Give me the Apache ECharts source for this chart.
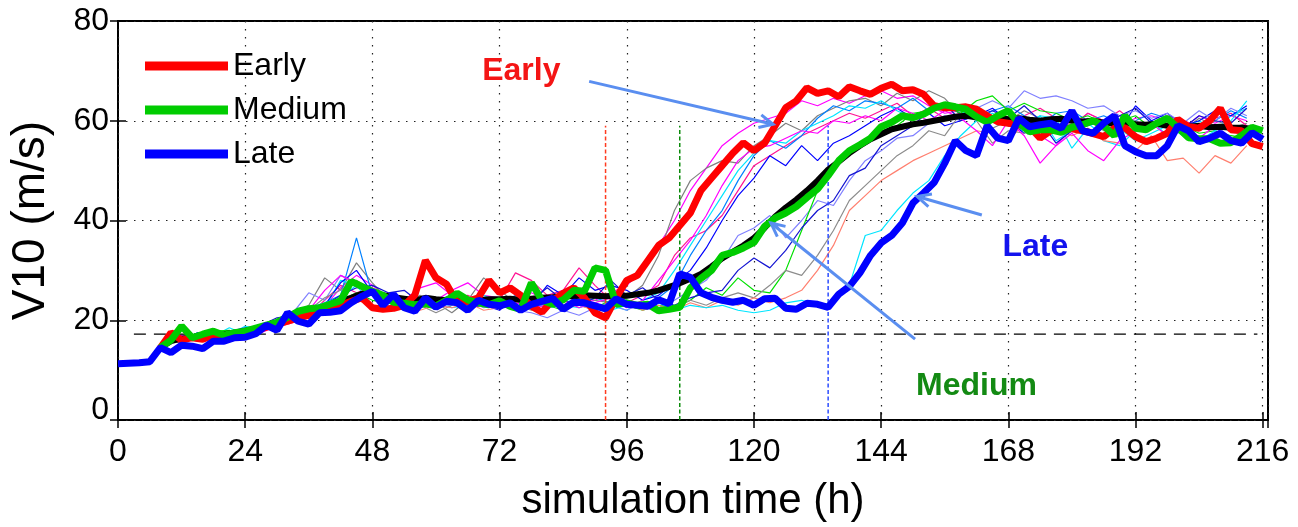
<!DOCTYPE html>
<html>
<head>
<meta charset="utf-8">
<script src="https://cdn.jsdelivr.net/npm/echarts@6/dist/echarts.min.js"></script>
<style>
html,body{margin:0;padding:0;background:#fff;}
#chart{width:1298px;height:527px;}
</style>
</head>
<body>
<div id="chart"></div>
<script>
// ---------- DATA ----------
// x ticks (simulation hours)
const xTicks = [0, 24, 48, 72, 96, 120, 144, 168, 192, 216];
const yTicks = [0, 20, 40, 60, 80];

// Thick lines: 2-hourly values
const thickStep = 2;
const lateStart = 0;     // Late (blue) starts at hour 0
const lateValues = [
  11.3,11.4,11.5,11.7,14.5,13.5,15.0,14.8,14.3,15.8,
  15.8,16.5,16.6,17.3,19.0,18.0,21.5,19.8,19.2,21.5,
  21.6,21.9,23.5,24.8,25.8,23.0,25.2,22.5,21.8,24.5,
  22.6,23.8,23.5,22.0,24.0,23.2,22.9,23.5,22.0,23.2,
  23.8,24.4,22.2,23.6,23.5,22.9,22.3,24.3,23.2,23.0,
  22.8,24.1,23.3,29.3,28.6,25.5,24.6,24.0,23.6,24.0,
  23.0,24.3,24.4,22.4,22.2,23.4,23.2,22.6,25.2,26.8,
  29.5,33.0,35.5,37.0,39.5,43.5,45.5,47.6,51.5,56.0,
  54.0,53.0,59.0,56.5,56.0,60.5,58.8,59.2,59.5,58.5,
  62.0,58.0,57.5,59.5,61.0,55.0,53.8,53.0,53.0,55.0,
  59.0,58.0,55.8,56.5,57.5,56.0,55.5,57.6,56.3
];
const earlyStart = 8;
const earlyValues = [
  14.5,17.5,16.0,16.5,16.2,17.0,16.8,17.2,17.5,18.2,
  18.6,19.2,19.8,20.5,21.0,22.0,22.5,23.0,23.8,24.5,
  22.5,22.2,22.4,23.0,25.0,32.0,28.5,27.2,23.5,23.8,
  24.5,28.0,25.5,26.5,25.0,22.8,21.6,24.0,25.4,26.5,
  24.5,21.5,20.5,24.5,28.0,29.0,32.0,35.0,36.5,39.0,
  41.5,46.0,48.5,51.0,53.5,55.6,54.0,55.5,59.0,62.6,
  64.0,66.6,65.5,66.0,64.8,66.8,66.0,65.3,66.5,67.3,
  66.0,66.2,65.3,63.0,62.6,62.6,62.8,62.3,61.0,59.8,
  59.5,59.2,58.8,56.5,58.0,58.4,58.4,58.0,57.4,56.8,
  58.5,58.6,56.8,55.8,56.5,57.5,60.3,58.8,58.5,60.0,
  62.5,58.2,58.0,55.4,54.8
];
const mediumStart = 8;
const mediumValues = [
  14.5,16.0,18.8,16.5,17.2,17.8,17.0,17.5,17.8,18.4,
  19.0,19.6,20.6,21.8,22.3,22.5,23.2,23.9,27.8,26.8,
  25.8,25.0,23.6,23.4,23.1,23.3,22.9,24.0,25.4,24.1,
  23.5,23.1,23.9,22.8,22.2,27.5,24.0,23.2,24.1,26.0,
  25.8,30.5,30.0,23.2,23.5,23.0,23.2,21.9,22.2,22.6,
  26.5,28.4,30.0,33.0,33.6,34.5,35.6,38.8,40.5,41.5,
  42.8,44.6,46.3,49.0,52.0,54.0,55.2,56.5,58.8,59.7,
  61.0,60.6,61.3,62.5,63.2,62.8,62.3,60.8,59.7,61.0,
  62.0,59.5,57.8,58.2,58.2,57.7,58.7,59.2,60.0,59.0,
  57.0,61.0,58.5,58.2,59.5,60.5,58.6,56.6,56.4,56.4,
  55.5,55.6,57.0,58.7,58.0
];
const meanStart = 8;
const meanValues = [
  14.5,15.8,16.3,16.5,16.8,17.0,17.2,17.5,17.8,18.3,
  18.8,19.5,20.3,21.0,21.8,22.5,23.0,23.8,24.5,25.3,
  25.5,25.0,24.6,24.3,24.0,24.5,24.2,24.0,24.0,23.9,
  24.0,24.2,24.2,24.3,24.1,24.3,24.5,24.6,24.8,24.8,
  25.0,24.9,24.8,24.9,24.9,25.2,25.5,26.0,26.7,27.4,
  28.3,29.3,30.8,32.4,33.7,35.0,36.5,38.5,40.8,42.6,
  44.2,46.0,48.0,50.2,51.8,53.5,55.0,56.3,57.3,58.3,
  58.8,59.3,59.6,60.0,60.4,60.8,61.0,60.7,60.5,60.6,
  60.3,60.5,60.2,60.0,60.3,60.4,60.0,59.8,60.0,59.6,
  59.4,59.6,59.3,59.2,59.4,59.0,59.2,58.8,59.0,58.7,
  58.8,58.6,58.6,58.4
];

// Thin ensemble members: 3-hourly values from hour 9
const memberStart = 9;
const memberStep = 3;
const memberColors = ['#ff00ff','#808080','#ff1493','#0080ff','#00e5ff','#0000ff','#8080ff','#00e000','#8c8c8c','#ff7f6f','#00e5ff','#1414d2','#ff00ff'];
const memberA = [
  15.5,16.8,16.2,17.5,17.0,18.2,17.8,19.0,20.5,21.5,
  22.8,26.5,29.0,27.0,24.5,23.5,23.0,24.0,26.0,27.5,
  25.0,24.5,23.0,25.5,24.0,26.0,23.5,24.0,25.5,27.0,
  30.0,35.0,40.0,46.0,50.5,55.0,57.5,59.5,60.5,61.5,
  64.0,63.0,64.5,63.5,65.0,66.0,64.5,65.0,63.0,61.5,
  62.0,60.5,61.0,60.0,59.5,57.0,55.0,58.5,61.5,60.0,
  59.0,60.5,61.0,60.0,58.5,61.0,59.5,61.0,60.0
];
const memberB = [
  15.8,16.5,17.0,16.6,17.8,18.0,18.5,19.8,21.0,23.0,
  28.5,26.0,31.5,27.5,24.0,23.0,25.0,23.5,21.5,24.0,
  28.5,26.0,23.5,23.0,24.5,23.0,25.0,24.0,23.5,24.5,
  27.0,33.0,42.0,48.0,50.5,52.0,51.5,55.0,57.0,59.5,
  58.0,61.0,62.5,64.0,64.5,63.0,65.5,64.0,66.0,64.5,
  61.0,62.5,58.5,60.0,62.0,60.5,59.0,58.0,60.0,59.5,
  61.0,58.5,60.0,59.0,58.0,60.5,59.0,58.5,59.5
];
const memberC = [
  16.0,15.5,16.8,17.2,16.5,17.5,18.0,18.6,19.5,21.0,
  24.0,27.0,25.5,26.5,24.0,23.5,24.5,23.0,24.5,25.0,
  23.5,24.0,29.5,28.0,25.0,26.0,30.5,27.0,24.0,23.5,
  25.0,27.0,33.0,36.5,38.0,41.0,46.0,51.0,53.0,55.0,
  57.0,58.5,60.0,61.5,60.5,62.0,63.5,61.0,62.5,60.5,
  61.5,62.0,60.0,59.5,61.0,62.5,60.5,59.0,61.5,60.0,
  62.0,59.5,58.5,61.0,60.0,59.0,60.5,61.5,59.0
];
const memberD = [
  15.5,16.0,16.5,17.0,17.5,17.8,18.2,19.0,20.0,21.5,
  23.5,25.0,36.5,25.0,23.5,24.5,23.0,22.5,24.0,23.0,
  24.5,23.0,25.0,24.0,22.5,24.0,23.0,24.5,23.5,24.0,
  23.0,24.5,27.0,33.0,38.0,42.0,48.0,53.0,56.0,54.5,
  57.0,60.5,63.0,62.0,64.0,63.5,62.5,64.5,62.0,63.0,
  61.5,60.0,62.0,63.0,61.0,59.0,61.5,62.0,60.0,61.0,
  59.5,60.0,61.5,60.5,59.0,58.5,60.0,62.0,60.5
];
const memberE = [
  16.2,16.0,17.5,16.8,18.5,17.2,18.0,19.0,20.0,21.0,
  22.5,28.0,27.0,25.0,23.0,22.0,23.5,24.5,22.5,23.0,
  25.0,23.5,24.0,22.5,23.0,24.0,23.5,22.5,23.0,22.0,
  24.0,25.5,30.0,35.0,40.0,45.0,50.0,53.5,56.0,55.5,
  58.0,59.5,61.0,63.0,62.5,64.0,62.0,60.5,62.0,63.5,
  62.0,60.0,61.0,59.0,58.0,61.0,60.5,54.5,58.5,56.0,
  55.0,58.0,60.0,57.0,58.5,60.0,58.0,61.0,62.5
];
const memberF = [
  15.6,16.4,16.0,17.3,16.9,17.6,18.3,19.2,20.2,21.5,
  23.0,27.5,30.0,25.5,24.0,24.5,22.5,23.5,24.0,22.5,
  23.0,22.0,24.5,23.0,27.0,25.0,28.5,26.0,27.0,26.0,
  24.0,25.0,27.5,30.0,34.5,40.0,45.0,48.5,53.0,51.0,
  55.0,52.0,55.5,57.0,59.0,61.0,62.5,60.5,61.5,59.0,
  60.0,61.0,62.5,60.0,57.5,59.0,60.5,58.5,59.0,60.0,
  58.0,63.0,60.0,61.5,59.0,60.0,62.0,61.0,63.0
];
const memberG = [
  16.0,16.5,15.8,17.0,17.5,17.0,18.5,19.5,21.5,25.5,
  24.0,29.0,27.5,26.0,24.0,23.5,24.0,22.5,23.0,24.0,
  22.5,23.0,22.0,21.5,20.5,22.0,21.0,22.5,23.0,22.0,
  23.5,22.5,24.0,26.0,28.0,32.0,37.0,38.5,41.0,36.5,
  40.0,44.0,43.0,48.0,52.0,54.0,56.5,57.0,59.5,61.0,
  60.0,62.5,64.0,62.5,66.0,64.5,65.0,64.0,62.5,63.0,
  61.0,62.0,60.5,61.5,59.5,62.0,60.0,62.5,61.0
];
const memberH = [
  15.8,17.0,16.5,17.8,18.0,17.2,18.5,19.0,20.5,21.0,
  22.0,24.0,25.5,24.0,23.5,22.0,24.0,23.0,24.5,23.0,
  24.0,23.5,22.5,24.0,23.0,22.0,23.5,22.5,24.0,23.0,
  22.0,23.0,22.5,24.0,26.5,25.0,28.5,26.0,25.5,30.0,
  38.0,46.0,51.0,54.5,55.5,58.0,59.0,61.5,62.0,63.0,
  61.5,64.0,65.0,62.0,63.5,62.0,61.5,60.0,61.0,59.5,
  60.0,61.0,58.5,60.0,59.0,57.5,58.0,57.0,56.5
];
const memberI = [
  16.0,16.8,17.2,16.4,17.4,18.0,17.5,19.5,20.0,22.0,
  24.5,26.0,28.0,26.0,23.5,22.5,23.0,21.5,23.0,24.5,
  23.0,22.5,23.0,22.0,23.5,22.5,23.0,22.0,24.0,23.0,
  22.5,23.5,22.5,24.0,23.0,24.5,25.5,24.5,27.0,30.0,
  29.0,33.0,38.0,44.0,47.0,50.0,53.0,55.0,58.0,57.0,
  61.5,60.0,55.5,58.0,57.5,59.0,60.0,59.0,60.5,58.0,
  59.5,60.0,58.5,61.0,59.5,58.0,60.0,59.0,58.5
];
const memberJ = [
  15.5,16.2,16.8,17.0,16.5,17.6,19.0,18.5,20.0,21.0,
  23.0,22.5,24.0,23.0,22.5,23.5,22.0,23.0,22.5,23.5,
  22.0,22.5,23.5,22.5,23.0,22.5,23.0,22.0,22.5,23.5,
  22.0,23.0,22.0,23.5,22.5,24.0,23.0,24.5,23.5,24.5,
  26.0,30.0,35.0,42.0,45.0,48.0,50.0,52.0,53.5,55.0,
  56.5,58.0,57.5,56.0,59.5,60.0,58.5,57.0,58.5,56.0,
  55.5,54.0,57.0,52.0,52.5,49.5,53.0,51.5,55.0
];
const memberK = [
  15.8,16.5,17.0,17.8,17.2,18.8,18.0,19.2,21.5,22.5,
  23.5,24.5,27.0,23.0,22.5,24.0,23.0,24.5,23.5,22.5,
  24.0,23.0,24.5,23.5,22.5,23.0,22.5,23.5,22.0,23.0,
  22.5,23.5,22.0,23.0,22.5,23.0,22.0,21.5,22.0,23.5,
  24.0,23.0,23.5,27.0,37.0,38.0,42.0,45.5,48.0,53.0,
  57.0,60.0,61.5,60.0,59.5,61.0,56.0,58.0,59.5,57.0,
  58.5,56.0,57.5,59.0,57.0,56.0,58.0,60.0,64.0
];
const memberL = [
  16.3,15.8,17.5,16.8,17.8,18.5,19.0,20.5,21.0,22.0,
  23.0,25.0,26.5,27.0,25.5,26.0,23.5,24.0,25.0,23.0,
  24.5,23.5,22.5,24.0,26.5,24.0,23.0,24.5,28.0,25.0,
  26.5,24.0,23.0,24.5,25.5,26.0,30.0,32.5,30.5,34.0,
  38.5,42.0,44.0,49.0,50.5,55.0,57.0,59.0,62.0,63.5,
  60.0,61.0,62.0,60.5,63.0,60.0,55.5,58.0,60.0,59.0,
  61.0,62.5,59.5,60.0,58.5,61.0,60.0,59.5,62.5
];
const memberM = [
  16.5,17.0,16.0,17.5,17.0,18.0,17.5,18.8,20.0,22.0,
  26.0,29.0,27.5,26.0,25.0,24.0,26.5,27.5,25.0,24.0,
  23.0,24.5,23.5,22.5,23.0,24.0,22.5,23.5,24.5,22.5,
  24.0,28.0,32.0,36.0,41.0,47.0,52.0,54.5,55.0,56.5,
  58.0,57.5,60.0,59.5,61.0,60.0,62.5,61.5,60.0,62.0,
  60.5,58.0,55.0,60.0,57.0,51.5,55.0,57.5,54.0,52.0,
  56.0,58.0,59.5,57.0,58.0,56.5,59.0,58.0,57.5
];
const members = [memberA,memberB,memberC,memberD,memberE,memberF,memberG,memberH,memberI,memberJ,memberK,memberL,memberM];

// reference lines
const thresholdValue = 17.2;
const thresholdSpan = [3, 215];
const onsetHours = [92, 106, 134];
const onsetColors = ['#ff3b1f', '#0a8a0a', '#2b4cff'];
const onsetTop = 59;

// annotations (label text, anchor in data coords)
const annotationLabels = ['Early', 'Late', 'Medium'];

// ---------- BUILD ----------
function pairs(start, step, vals) {
  return vals.map((v, i) => [start + i * step, v]);
}
const FONT = 'Liberation Sans';
const series = [];

members.forEach((m, k) => {
  series.push({
    type: 'line', name: 'member' + k, data: pairs(memberStart, memberStep, m),
    showSymbol: false, symbol: 'none', silent: true, z: 2,
    lineStyle: { color: memberColors[k], width: 1.2 }
  });
});

onsetHours.forEach((h, k) => {
  series.push({
    type: 'line', name: 'onset' + k, data: [[h, 0], [h, onsetTop]],
    showSymbol: false, symbol: 'none', silent: true, z: 3,
    lineStyle: { color: onsetColors[k], width: 1.5, type: [4, 2.5] }
  });
});

series.push({
  type: 'line', name: 'threshold',
  data: [[thresholdSpan[0], thresholdValue], [thresholdSpan[1], thresholdValue]],
  showSymbol: false, symbol: 'none', silent: true, z: 3,
  lineStyle: { color: '#000', width: 1.3, type: [12, 8] },
  markPoint: {
    silent: true, animation: false,
    symbol: 'circle', symbolSize: 1, itemStyle: { color: 'transparent' },
    label: { show: true, position: 'inside', formatter: '{b}', fontFamily: FONT, fontWeight: 'bold', fontSize: 32 },
    data: [
      { name: annotationLabels[0], coord: [76.1, 69.9], label: { color: '#f41515' } },
      { name: annotationLabels[1], coord: [173.1, 34.6], label: { color: '#1313ee' } },
      { name: annotationLabels[2], coord: [162.0, 6.8], label: { color: '#138a13' } }
    ]
  }
});

series.push({
  type: 'line', name: 'Mean', data: pairs(meanStart, thickStep, meanValues),
  showSymbol: false, symbol: 'none', silent: true, z: 4,
  lineStyle: { color: '#000', width: 6 }
});
series.push({
  type: 'line', name: 'Early', data: pairs(earlyStart, thickStep, earlyValues),
  showSymbol: false, symbol: 'none', silent: true, z: 5,
  lineStyle: { color: '#ff0000', width: 7 }, itemStyle: { color: '#ff0000' }
});
series.push({
  type: 'line', name: 'Medium', data: pairs(mediumStart, thickStep, mediumValues),
  showSymbol: false, symbol: 'none', silent: true, z: 6,
  lineStyle: { color: '#00cc00', width: 7 }, itemStyle: { color: '#00cc00' }
});
series.push({
  type: 'line', name: 'Late', data: pairs(lateStart, thickStep, lateValues),
  showSymbol: false, symbol: 'none', silent: true, z: 7,
  lineStyle: { color: '#0000ff', width: 7 }, itemStyle: { color: '#0000ff' }
});

const xMin = xTicks[0], xMax = 217;
const gridSplit = { show: true, lineStyle: { color: '#222', width: 1.2, type: [1.5, 6.5] } };
const option = {
  animation: false,
  backgroundColor: '#fff',
  grid: { left: 111, right: 30, top: 21, bottom: 97, show: true, borderColor: '#000', borderWidth: 2, backgroundColor: 'transparent' },
  legend: {
    data: ['Early', 'Medium', 'Late'], orient: 'vertical', left: 140, top: 45,
    icon: 'rect', itemWidth: 83, itemHeight: 9, itemGap: 12,
    textStyle: { fontFamily: FONT, fontSize: 32, lineHeight: 32, color: '#000' },
    selectedMode: false, z: 20
  },
  xAxis: [{
    type: 'value', min: xMin, max: xMax, interval: 24, position: 'bottom',
    name: 'simulation time (h)', nameLocation: 'middle', nameGap: 60,
    nameTextStyle: { fontFamily: FONT, fontSize: 42, color: '#000' },
    axisLine: { show: false },
    axisTick: { show: true, inside: true, length: 8, lineStyle: { color: '#000', width: 1.5 } },
    axisLabel: { fontFamily: FONT, fontSize: 32, color: '#000', margin: 16, showMaxLabel: false,
      formatter: v => (xTicks.indexOf(v) >= 0 ? String(v) : '') },
    splitLine: gridSplit
  }, {
    type: 'value', min: xMin, max: xMax, interval: 24, position: 'top',
    axisLine: { show: false },
    axisTick: { show: true, inside: true, length: 8, lineStyle: { color: '#000', width: 1.5 } },
    axisLabel: { show: false }, splitLine: { show: false }
  }],
  yAxis: [{
    type: 'value', min: yTicks[0], max: yTicks[yTicks.length - 1], interval: 20, position: 'left',
    name: 'V10 (m/s)', nameLocation: 'middle', nameGap: 64,
    nameTextStyle: { fontFamily: FONT, fontSize: 46, color: '#000' },
    axisLine: { show: false },
    axisTick: { show: true, inside: true, length: 8, lineStyle: { color: '#000', width: 1.5 } },
    axisLabel: { fontFamily: FONT, fontSize: 32, color: '#000', margin: 9,
      formatter: v => (v === 0 ? '{zero|0}' : String(v)),
      rich: { zero: { fontFamily: FONT, fontSize: 32, color: '#000', padding: [0, 0, 20, 0] } } },
    splitLine: gridSplit
  }, {
    type: 'value', min: yTicks[0], max: yTicks[yTicks.length - 1], interval: 20, position: 'right',
    axisLine: { show: false },
    axisTick: { show: true, inside: true, length: 8, lineStyle: { color: '#000', width: 1.5 } },
    axisLabel: { show: false }, splitLine: { show: false }
  }],
  series: series
};
const chart = echarts.init(document.getElementById('chart'), null, { renderer: 'canvas' });
chart.setOption(option);

// ---------- annotation arrows (data coords -> pixels) ----------
const arrowDefs = [
  [[88.9, 67.9], [123.6, 59.3]],
  [[150.4, 16.2], [123.2, 39.5]],
  [[163.0, 41.1], [150.8, 44.8]]
];
const arrowColor = '#5a8ef0';
const graphics = [];
arrowDefs.forEach(([from, to]) => {
  const p1 = chart.convertToPixel({ xAxisIndex: 0, yAxisIndex: 0 }, from);
  const p2 = chart.convertToPixel({ xAxisIndex: 0, yAxisIndex: 0 }, to);
  const ang = Math.atan2(p2[1] - p1[1], p2[0] - p1[0]);
  const L = 15, spread = 0.45;
  const a1 = [p2[0] - L * Math.cos(ang - spread), p2[1] - L * Math.sin(ang - spread)];
  const a2 = [p2[0] - L * Math.cos(ang + spread), p2[1] - L * Math.sin(ang + spread)];
  graphics.push({ type: 'line', z: 15, silent: true, shape: { x1: p1[0], y1: p1[1], x2: p2[0], y2: p2[1] },
    style: { stroke: arrowColor, lineWidth: 3 } });
  graphics.push({ type: 'polyline', z: 15, silent: true, shape: { points: [a1, p2, a2] },
    style: { stroke: arrowColor, lineWidth: 3, fill: null, lineJoin: 'miter' } });
});
chart.setOption({ graphic: graphics });
</script>
</body>
</html>
